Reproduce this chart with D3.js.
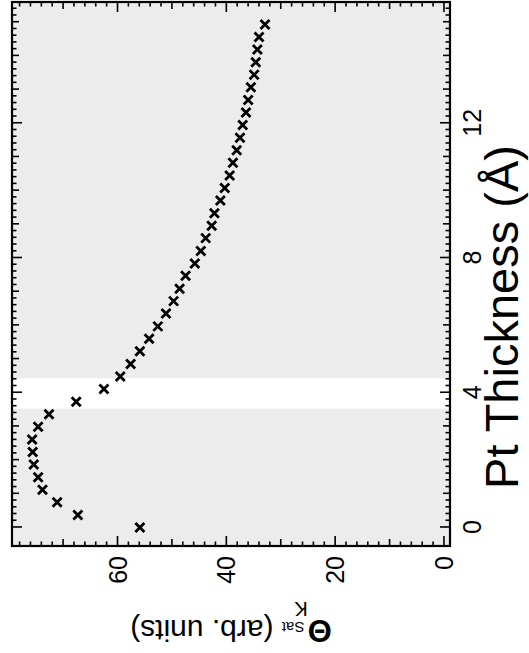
<!DOCTYPE html>
<html>
<head>
<meta charset="utf-8">
<script src="https://cdn.jsdelivr.net/npm/d3@7"></script>
<style>
  html, body { margin: 0; padding: 0; background: #fff; }
  svg { display: block; }
  text { font-family: "Liberation Sans", Arial, Helvetica, sans-serif; fill: #000; }
</style>
</head>
<body>
<svg id="chart" width="529" height="653"></svg>
<script>
// ---- data ----
const thickness = [0, 0.37, 0.75, 1.12, 1.49, 1.87, 2.24, 2.61, 2.99, 3.36, 3.73, 4.11, 4.48, 4.85,
  5.23, 5.60, 5.97, 6.35, 6.72, 7.09, 7.47, 7.84, 8.21, 8.59, 8.96, 9.33, 9.71, 10.08, 10.45, 10.83,
  11.20, 11.57, 11.95, 12.32, 12.69, 13.07, 13.44, 13.81, 14.19, 14.56, 14.93];
const thetaSat = [55.8, 67.2, 71.0, 73.7, 74.5, 75.3, 75.5, 75.6, 74.5, 72.5, 67.5, 62.4, 59.4, 57.5,
  55.8, 54.1, 52.5, 51.0, 49.6, 48.5, 47.4, 45.7, 44.6, 43.7, 42.6, 42.1, 41.0, 40.2, 39.3, 38.7,
  38.0, 37.4, 36.9, 36.3, 35.9, 35.4, 34.8, 34.5, 34.2, 33.9, 32.8];
const gapBand = [3.53, 4.43];              // white (uncovered) band in thickness
const thicknessTicks = [0, 4, 8, 12];
const thetaTicks = [0, 20, 40, 60];
const xTitle = "Pt Thickness (Å)";

// ---- layout: chart is drawn in its normal orientation, then rotated -90° ----
const W = 529, H = 653;
const svg = d3.select("#chart");
const g = svg.append("g").attr("transform", `translate(0,${H}) rotate(-90)`);
const x0 = 107, x1 = 651, y0 = 12, y1 = 450;
const x = d3.scaleLinear().domain([-0.55, 15.6]).range([x0, x1]);
const y = d3.scaleLinear().domain([-1.2, 79.3]).range([y1, y0]);

// background
g.append("rect").attr("x", x0).attr("y", y0).attr("width", x1 - x0).attr("height", y1 - y0)
  .attr("fill", "#ececec");
g.append("rect").attr("x", x(gapBand[0])).attr("y", y0)
  .attr("width", x(gapBand[1]) - x(gapBand[0])).attr("height", y1 - y0).attr("fill", "#fff");

function range(a, b, s) { const r = []; for (let v = a; v <= b + 1e-9; v += s) r.push(+v.toFixed(4)); return r; }
const xMinor = range(0, 15.4, 0.2).filter(v => Math.abs(v - Math.round(v)) > 1e-6);
const xMed = range(0, 15, 1).filter(v => v % 4 !== 0);
const yMinor = range(0, 78, 2).filter(v => v % 10 !== 0);
const yMed = range(10, 70, 20);

function drawAxis(axisFn, scale, vals, size, transform, labels) {
  const a = axisFn(scale).tickValues(vals).tickSizeOuter(0).tickSize(size)
    .tickFormat(labels ? d3.format("d") : "");
  const sel = g.append("g").attr("transform", transform).call(a);
  sel.select(".domain").remove();
  sel.selectAll(".tick line").attr("stroke", "#000").attr("stroke-width", 1.6);
  return sel;
}
drawAxis(d3.axisBottom, x, xMinor, -4.5, `translate(0,${y1})`);
drawAxis(d3.axisBottom, x, xMed, -7, `translate(0,${y1})`);
const xb = drawAxis(d3.axisBottom, x, thicknessTicks, -10, `translate(0,${y1})`, true);
drawAxis(d3.axisTop, x, xMinor, -4.5, `translate(0,${y0})`);
drawAxis(d3.axisTop, x, xMed, -7, `translate(0,${y0})`);
drawAxis(d3.axisTop, x, thicknessTicks, -10, `translate(0,${y0})`);
drawAxis(d3.axisLeft, y, yMinor, -4.5, `translate(${x0},0)`);
drawAxis(d3.axisLeft, y, yMed, -7, `translate(${x0},0)`);
const yl = drawAxis(d3.axisLeft, y, thetaTicks, -10, `translate(${x0},0)`, true);
drawAxis(d3.axisRight, y, yMinor, -4.5, `translate(${x1},0)`);
drawAxis(d3.axisRight, y, yMed, -7, `translate(${x1},0)`);
drawAxis(d3.axisRight, y, thetaTicks, -10, `translate(${x1},0)`);

xb.selectAll(".tick text").attr("y", 13).attr("dy", "0.71em").attr("font-size", 25)
  .attr("font-family", "Liberation Sans, Arial, sans-serif");
yl.selectAll(".tick text").attr("x", -10).attr("dy", "0.36em").attr("font-size", 25)
  .attr("font-family", "Liberation Sans, Arial, sans-serif");

// frame
g.append("rect").attr("x", x0).attr("y", y0).attr("width", x1 - x0).attr("height", y1 - y0)
  .attr("fill", "none").attr("stroke", "#000").attr("stroke-width", 2.2);

// markers (x crosses)
const s = 4.5;
g.append("g").selectAll("path").data(thickness).join("path")
  .attr("d", (d, i) => {
    const cx = x(d), cy = y(thetaSat[i]);
    return `M${cx - s},${cy - s}L${cx + s},${cy + s}M${cx - s},${cy + s}L${cx + s},${cy - s}`;
  })
  .attr("stroke", "#000").attr("stroke-width", 2.8).attr("fill", "none");

// axis titles
g.append("text").attr("x", 336).attr("y", 518).attr("text-anchor", "middle")
  .attr("font-size", 47).text(xTitle);

const yt = g.append("text").attr("transform", `translate(33,${231}) rotate(-90)`)
  .attr("text-anchor", "middle");
yt.append("tspan").attr("font-size", 31).attr("font-weight", "bold").text("Θ");
yt.append("tspan").attr("font-size", 20).attr("dy", 18).text("K");
yt.append("tspan").attr("font-size", 15).attr("dx", -10).attr("dy", -20).text("Sat");
yt.append("tspan").attr("font-size", 30).attr("dy", 2).text(" (arb. units)");
</script>
</body>
</html>
